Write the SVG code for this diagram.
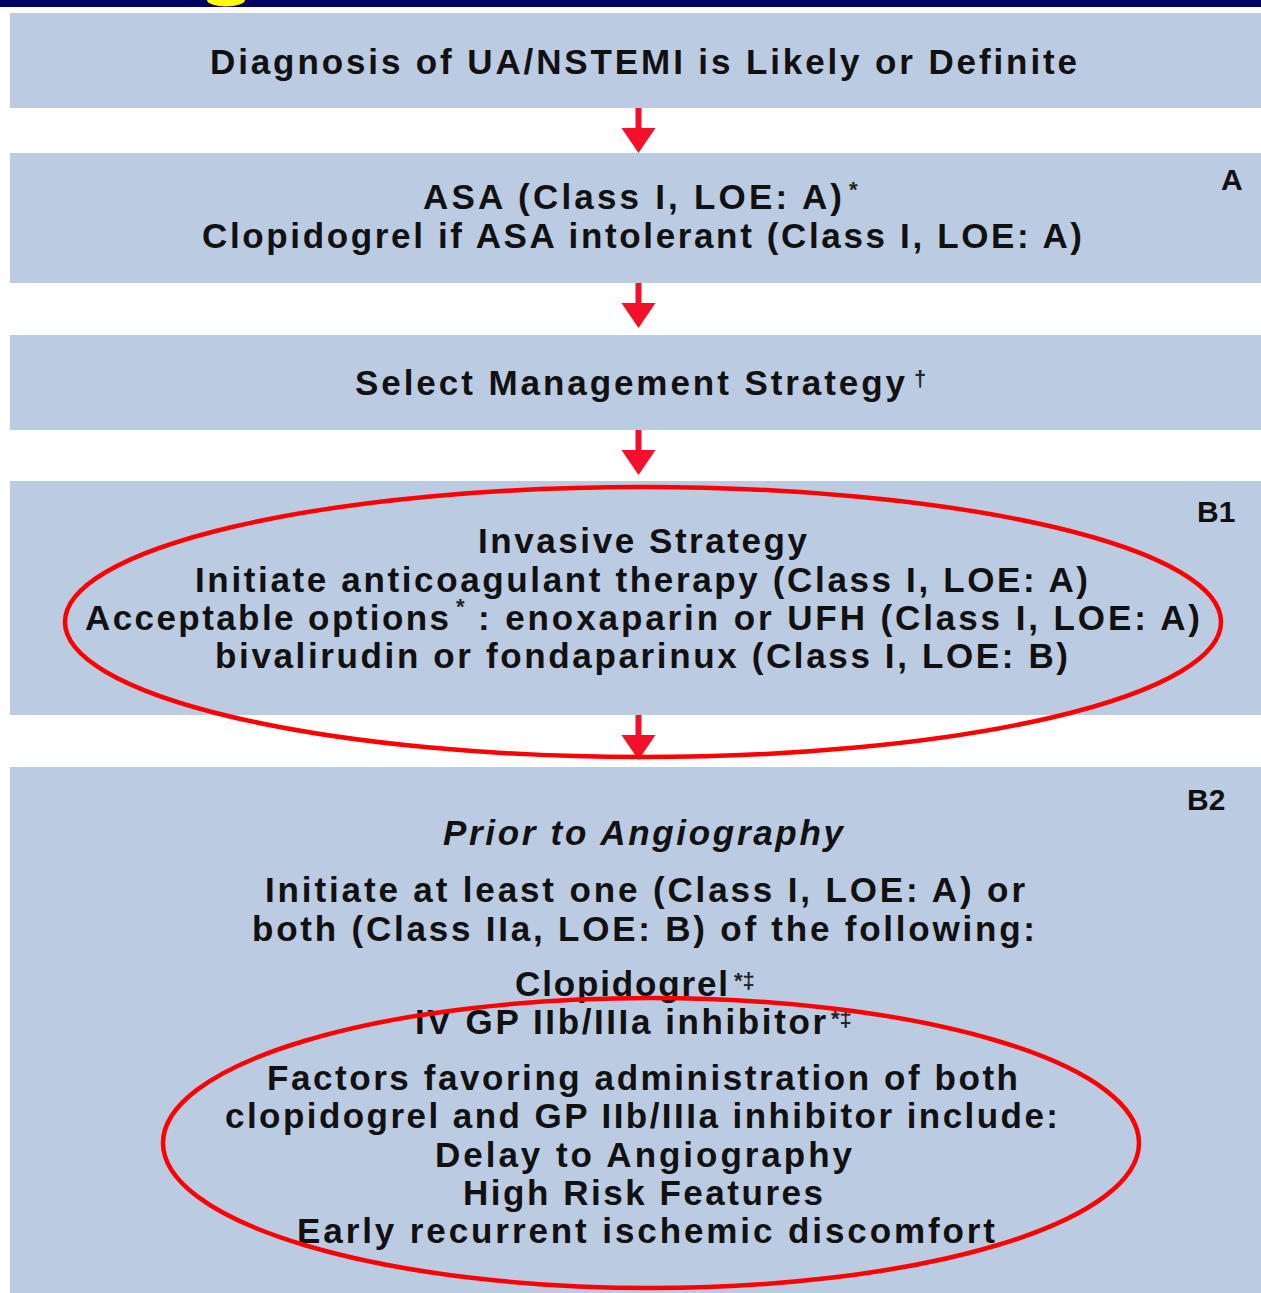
<svg xmlns="http://www.w3.org/2000/svg" width="1261" height="1293" viewBox="0 0 1261 1293">
<style>
.box{fill:#BBCBE1}
.t{font-family:"Liberation Sans",Arial,sans-serif;font-weight:bold;font-size:35px;fill:#111;text-anchor:middle}
.s{font-family:"Liberation Sans",Arial,sans-serif;font-weight:bold;font-size:22px;fill:#222}
.lbl{font-family:"Liberation Sans",Arial,sans-serif;font-weight:bold;font-size:30px;fill:#111}
.arr{fill:#F2102A}
.ell{fill:none;stroke:#FF0000;stroke-width:4.5}
</style>
<defs>
<path id="arrow" class="arr" d="M-3,0 H3 V20 H17 L0,45 L-17,20 H-3 Z"/>
</defs>
<rect x="0" y="0" width="1261" height="1293" fill="#FFFFFF"/>
<rect x="0" y="0" width="1261" height="7" fill="#000066"/>
<path d="M207,0 A19,6.5 0 0 0 245,0 Z" fill="#FFFF00"/>

<g id="node1">
<rect class="box" x="10" y="13" width="1251" height="95"/>
<text class="t" x="643.5" y="74" textLength="867">Diagnosis of UA/NSTEMI is Likely or Definite</text>
</g>
<g id="node2">
<rect class="box" x="10" y="153" width="1251" height="130"/>
<text class="t" x="632.5" y="209" textLength="419">ASA (Class I, LOE: A)</text>
<text class="s" x="849" y="197">*</text>
<text class="t" x="642" y="248" textLength="880">Clopidogrel if ASA intolerant (Class I, LOE: A)</text>
<text class="lbl" x="1221" y="190">A</text>
</g>
<g id="node3">
<rect class="box" x="10" y="335" width="1251" height="95"/>
<text class="t" x="630" y="395" textLength="550">Select Management Strategy</text>
<text class="s" x="914" y="386" font-size="26">†</text>
</g>
<g id="node4">
<rect class="box" x="10" y="481" width="1251" height="234"/>
<text class="t" x="267" y="630" textLength="364">Acceptable options</text>
<text class="s" x="456" y="614" font-size="18">*</text>
<text class="t" x="839" y="630" textLength="722">: enoxaparin or UFH (Class I, LOE: A)</text>
<text class="t" x="642.5" y="553" textLength="329">Invasive Strategy</text>
<text class="t" x="641.5" y="592" textLength="893">Initiate anticoagulant therapy (Class I, LOE: A)</text>
<text class="t" x="641.5" y="668" textLength="853">bivalirudin or fondaparinux (Class I, LOE: B)</text>
<text class="lbl" x="1197" y="522">B1</text>
</g>
<g id="node5">
<rect class="box" x="10" y="767" width="1251" height="526"/>
<text class="t" x="643" y="845" textLength="400" font-style="italic" font-weight="normal">Prior to Angiography</text>
<text class="t" x="645" y="902" textLength="760">Initiate at least one (Class I, LOE: A) or</text>
<text class="t" x="643.5" y="941" textLength="783">both (Class IIa, LOE: B) of the following:</text>
<text class="t" x="621.5" y="996" textLength="213">Clopidogrel</text>
<text class="s" x="734" y="988" font-size="24">*‡</text>
<text class="t" x="620.5" y="1034" textLength="411">IV GP IIb/IIIa inhibitor</text>
<text class="s" x="831" y="1026" font-size="24">*‡</text>
<text class="t" x="642.5" y="1090" textLength="751">Factors favoring administration of both</text>
<text class="t" x="641.5" y="1128" textLength="833">clopidogrel and GP IIb/IIIa inhibitor include:</text>
<text class="t" x="643.5" y="1167" textLength="417">Delay to Angiography</text>
<text class="t" x="643" y="1205" textLength="360">High Risk Features</text>
<text class="t" x="646" y="1243" textLength="698">Early recurrent ischemic discomfort</text>
<text class="lbl" x="1187" y="810">B2</text>
</g>

<g id="connectors">
<use href="#arrow" x="638.5" y="108"/>
<use href="#arrow" x="638.5" y="283"/>
<use href="#arrow" x="638.5" y="430"/>
<use href="#arrow" x="638.5" y="715"/>
</g>

<g id="highlights">
<ellipse class="ell" cx="643" cy="622" rx="578" ry="135"/>
<ellipse class="ell" cx="651" cy="1143" rx="488" ry="145"/>
</g>
</svg>
